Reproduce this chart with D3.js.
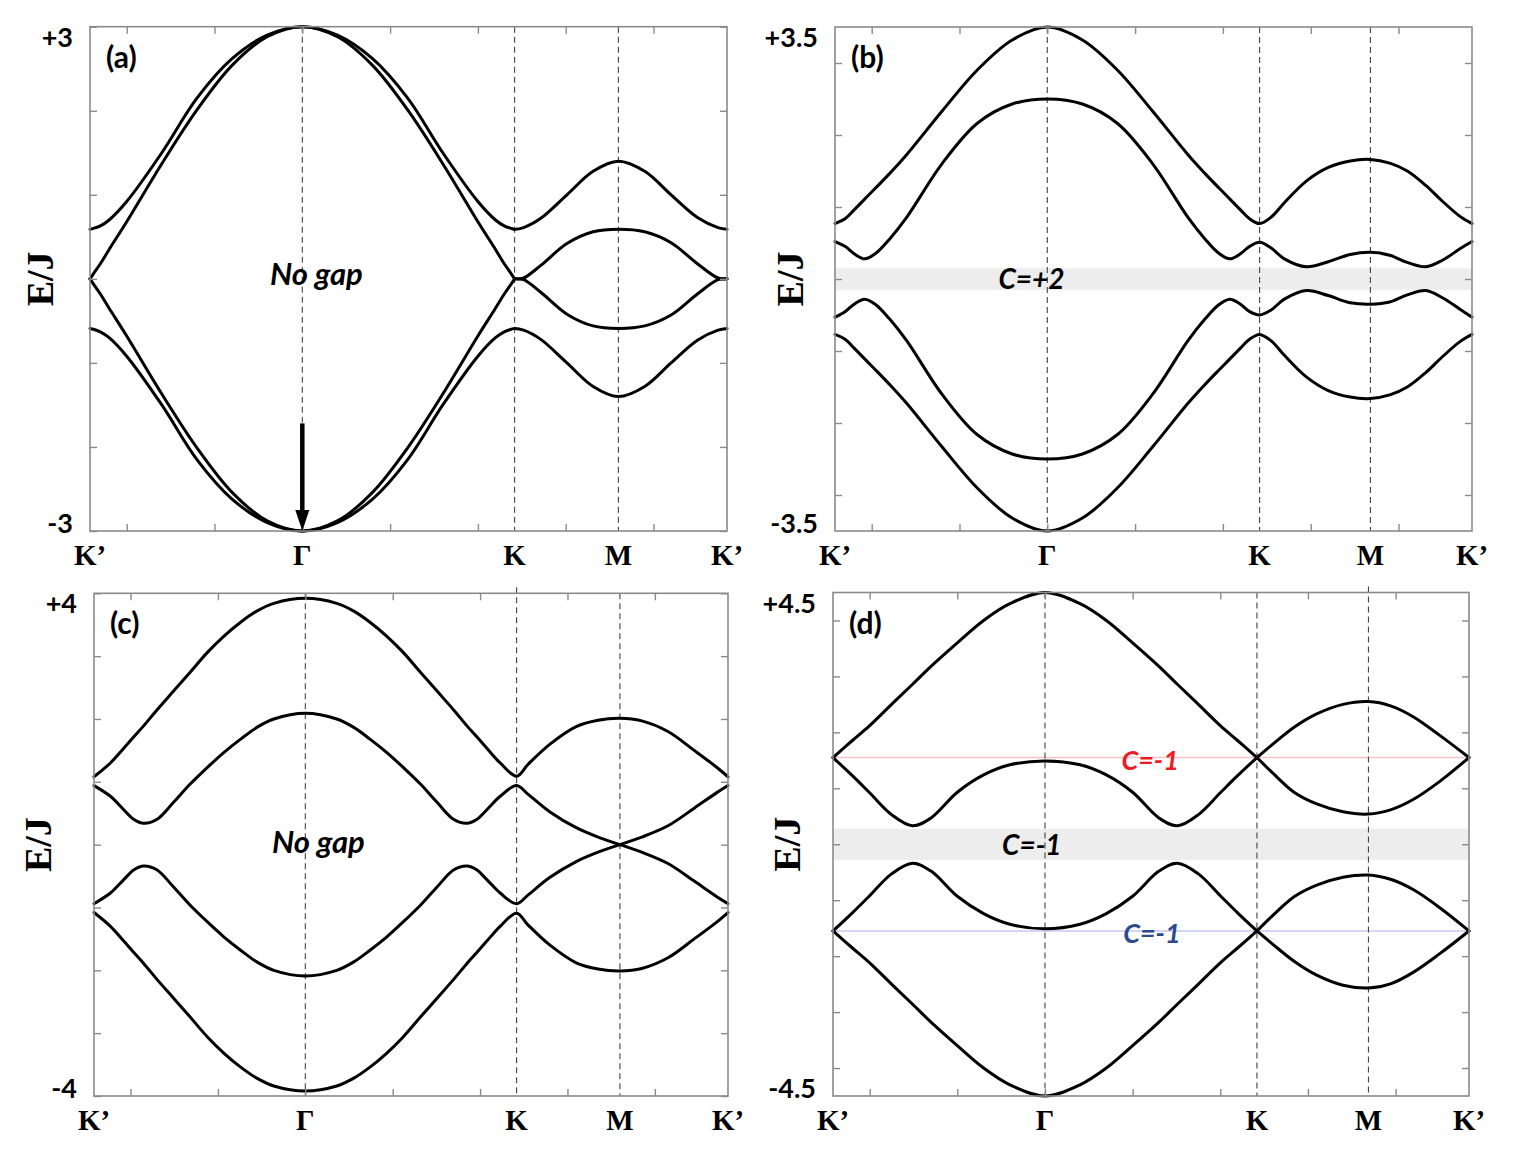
<!DOCTYPE html>
<html>
<head>
<meta charset="utf-8">
<script src="https://cdnjs.cloudflare.com/ajax/libs/d3/7.8.5/d3.min.js"></script>
<style>
  body { margin: 0; background: #fff; }
  svg { display: block; }
</style>
</head>
<body>
<div id="chart"></div>
<script>
// path K' -> Γ -> K -> M -> K', k in units of 1/a (Γ = 0)
var kDomain = [-2.418, 4.837];
var kTicks = [-2, -1, 0, 1, 2, 3, 4];
var symNames = ["K’", "Γ", "K", "M", "K’"];

// ---- panel (a)
var symA = [-2.418, 0, 2.418, 3.60, 4.837];
var kA = [-2.418, -2.38, -2.3, -2.2, -2.0, -1.6, -1.2, -0.8, -0.4, 0,
          0.4, 0.8, 1.2, 1.6, 2.0, 2.2, 2.3, 2.38, 2.418,
          2.52, 2.716, 3.014, 3.312, 3.60,
          3.9, 4.2, 4.5, 4.735, 4.837];
var a1 = [0.59, 0.60, 0.63, 0.70, 0.92, 1.50, 2.15, 2.62, 2.90, 3.00,
          2.90, 2.62, 2.15, 1.50, 0.92, 0.70, 0.63, 0.60, 0.59,
          0.61, 0.72, 1.00, 1.28, 1.40,
          1.28, 1.00, 0.73, 0.61, 0.59];
var a2 = [0.00, 0.06, 0.18, 0.35, 0.68, 1.37, 2.01, 2.54, 2.88, 3.00,
          2.88, 2.54, 2.01, 1.37, 0.68, 0.35, 0.18, 0.06, 0.00,
          0.01, 0.16, 0.42, 0.56, 0.59,
          0.56, 0.43, 0.18, 0.01, 0.00];
var a3 = [0.00, -0.06, -0.18, -0.35, -0.68, -1.37, -2.01, -2.54, -2.88, -3.00,
          -2.88, -2.54, -2.01, -1.37, -0.68, -0.35, -0.18, -0.06, 0.00,
          -0.01, -0.16, -0.42, -0.56, -0.59,
          -0.56, -0.43, -0.18, -0.01, 0.00];
var a4 = [-0.59, -0.60, -0.63, -0.70, -0.92, -1.50, -2.15, -2.62, -2.90, -3.00,
          -2.90, -2.62, -2.15, -1.50, -0.92, -0.70, -0.63, -0.60, -0.59,
          -0.61, -0.72, -1.00, -1.28, -1.40,
          -1.28, -1.00, -0.73, -0.61, -0.59];
var cuspA = [[], [2.418], [2.418], []];

// ---- panel (b)
var symB = [-2.418, 0, 2.418, 3.68, 4.837];
var kB = [-2.418, -2.3, -2.2, -2.08, -1.95, -1.8, -1.6, -1.2, -0.8, -0.4, 0,
          0.4, 0.8, 1.2, 1.6, 1.8, 1.95, 2.08, 2.2, 2.3, 2.418,
          2.55, 2.7, 2.95, 3.2, 3.45, 3.68,
          3.9, 4.1, 4.31, 4.5, 4.7, 4.837];
var b1 = [0.77, 0.84, 0.96, 1.11, 1.27, 1.46, 1.73, 2.33, 2.90, 3.32, 3.50,
          3.32, 2.90, 2.33, 1.73, 1.46, 1.27, 1.11, 0.96, 0.84, 0.77,
          0.86, 1.06, 1.36, 1.55, 1.64, 1.66,
          1.61, 1.50, 1.30, 1.08, 0.87, 0.77];
var b2 = [0.52, 0.45, 0.35, 0.28, 0.36, 0.55, 0.86, 1.60, 2.16, 2.43, 2.50,
          2.43, 2.16, 1.60, 0.86, 0.55, 0.36, 0.28, 0.35, 0.45, 0.51,
          0.43, 0.28, 0.17, 0.24, 0.34, 0.37,
          0.33, 0.23, 0.17, 0.26, 0.42, 0.52];
var b3 = [-0.53, -0.45, -0.35, -0.28, -0.36, -0.55, -0.86, -1.60, -2.16, -2.43, -2.50,
          -2.43, -2.16, -1.60, -0.86, -0.55, -0.36, -0.28, -0.35, -0.45, -0.50,
          -0.43, -0.28, -0.16, -0.23, -0.33, -0.35,
          -0.32, -0.22, -0.16, -0.26, -0.42, -0.53];
var b4 = [-0.77, -0.84, -0.96, -1.11, -1.27, -1.46, -1.73, -2.33, -2.90, -3.32, -3.50,
          -3.32, -2.90, -2.33, -1.73, -1.46, -1.27, -1.11, -0.96, -0.84, -0.77,
          -0.86, -1.06, -1.36, -1.55, -1.64, -1.66,
          -1.61, -1.50, -1.30, -1.08, -0.87, -0.77];
var gapB = [-0.15, 0.15];
var cuspB = [[], [], [], []];

// ---- panel (c)
var symC = [-2.418, 0, 2.418, 3.60, 4.837];
var kC = [-2.418, -2.23, -2.08, -1.96, -1.85, -1.70, -1.51, -1.32, -1.12, -0.93, -0.74, -0.55, -0.36, 0,
          0.36, 0.55, 0.74, 0.93, 1.12, 1.32, 1.51, 1.70, 1.85, 1.96, 2.08, 2.23, 2.418,
          2.55, 2.8, 3.1, 3.35, 3.60,
          3.85, 4.15, 4.45, 4.7, 4.837];
var c1 = [1.08, 1.30, 1.53, 1.72, 1.89, 2.14, 2.44, 2.74, 3.06, 3.32, 3.54, 3.72, 3.84, 3.92,
          3.84, 3.72, 3.54, 3.32, 3.06, 2.74, 2.44, 2.14, 1.89, 1.72, 1.53, 1.30, 1.09,
          1.28, 1.60, 1.88, 1.98, 2.01,
          1.97, 1.80, 1.50, 1.24, 1.08];
var c2 = [0.94, 0.77, 0.56, 0.40, 0.34, 0.40, 0.67, 0.96, 1.23, 1.47, 1.68, 1.87, 2.00, 2.09,
          2.00, 1.87, 1.68, 1.47, 1.23, 0.96, 0.67, 0.40, 0.34, 0.40, 0.56, 0.77, 0.94,
          0.80, 0.52, 0.27, 0.12, 0.00,
          0.12, 0.30, 0.58, 0.82, 0.94];
var c3 = [-0.94, -0.77, -0.56, -0.40, -0.34, -0.40, -0.67, -0.96, -1.23, -1.47, -1.68, -1.87, -2.00, -2.09,
          -2.00, -1.87, -1.68, -1.47, -1.23, -0.96, -0.67, -0.40, -0.34, -0.40, -0.56, -0.77, -0.94,
          -0.80, -0.52, -0.27, -0.12, 0.00,
          -0.12, -0.30, -0.58, -0.82, -0.94];
var c4 = [-1.08, -1.30, -1.53, -1.72, -1.89, -2.14, -2.44, -2.74, -3.06, -3.32, -3.54, -3.72, -3.84, -3.92,
          -3.84, -3.72, -3.54, -3.32, -3.06, -2.74, -2.44, -2.14, -1.89, -1.72, -1.53, -1.30, -1.09,
          -1.28, -1.60, -1.88, -1.98, -2.01,
          -1.97, -1.80, -1.50, -1.24, -1.08];
var cuspC = [[], [3.60], [3.60], []];

// ---- panel (d)
var symD = [-2.418, 0, 2.418, 3.69, 4.837];
var kD = [-2.418, -2.2, -2.0, -1.75, -1.51, -1.3, -1.0, -0.7, -0.4, 0,
          0.4, 0.7, 1.0, 1.3, 1.51, 1.75, 2.0, 2.2, 2.418,
          2.6, 2.85, 3.1, 3.4, 3.69,
          3.95, 4.2, 4.5, 4.837];
var d1 = [1.55, 1.85, 2.12, 2.50, 2.86, 3.18, 3.60, 4.00, 4.30, 4.50,
          4.30, 4.00, 3.60, 3.18, 2.86, 2.50, 2.12, 1.85, 1.55,
          1.79, 2.10, 2.33, 2.50, 2.55,
          2.47, 2.28, 1.95, 1.55];
var d2 = [1.55, 1.23, 0.92, 0.53, 0.33, 0.47, 0.93, 1.24, 1.42, 1.49,
          1.42, 1.24, 0.93, 0.47, 0.33, 0.53, 0.92, 1.23, 1.55,
          1.27, 0.92, 0.72, 0.58, 0.54,
          0.62, 0.80, 1.12, 1.55];
var d3b = [-1.55, -1.23, -0.92, -0.53, -0.34, -0.48, -0.93, -1.24, -1.43, -1.51,
           -1.43, -1.24, -0.93, -0.48, -0.34, -0.53, -0.92, -1.23, -1.55,
           -1.27, -0.93, -0.73, -0.59, -0.55,
           -0.63, -0.81, -1.13, -1.55];
var d4 = [-1.55, -1.85, -2.12, -2.50, -2.86, -3.18, -3.60, -4.00, -4.30, -4.50,
          -4.30, -4.00, -3.60, -3.18, -2.86, -2.50, -2.12, -1.85, -1.55,
          -1.79, -2.10, -2.34, -2.52, -2.57,
          -2.49, -2.29, -1.96, -1.55];
var gapD = [-0.28, 0.28];
var levelsD = [1.55, -1.55];
var cuspD = [[2.418], [2.418], [2.418], [2.418]];

var panels = [
  { tag: "(a)", box: [90, 26.7, 727, 531], yMax: 3, yLab: ["+3", "-3"], ejX: 40,
    sym: symA, k: kA, bands: [a1, a2, a3, a4], cusps: cuspA,
    notes: [{ t: "No gap", k: 0.16, E: -0.07, size: 31, color: "#000" }],
    arrow: { k: 0, from: -1.72, to: -3.0 } },
  { tag: "(b)", box: [835, 27, 1472, 531], yMax: 3.5, yLab: ["+3.5", "-3.5"], ejX: 790,
    sym: symB, k: kB, bands: [b1, b2, b3, b4], cusps: cuspB, gap: gapB,
    notes: [{ t: "C=+2", k: -0.18, E: -0.14, size: 28, color: "#000" }] },
  { tag: "(c)", box: [94, 593.3, 728, 1096], yMax: 4, yLab: ["+4", "-4"], ejX: 38,
    sym: symC, k: kC, bands: [c1, c2, c3, c4], cusps: cuspC, extend: 2,
    notes: [{ t: "No gap", k: 0.15, E: -0.135, size: 31, color: "#000" }] },
  { tag: "(d)", box: [833, 592.5, 1469, 1096], yMax: 4.5, yLab: ["+4.5", "-4.5"], ejX: 787,
    sym: symD, k: kD, bands: [d1, d2, d3b, d4], cusps: cuspD, gap: gapD, extend: 3,
    levels: [{ E: levelsD[0], color: "#f6c4c4" }, { E: levelsD[1], color: "#c9c9ef" }],
    notes: [{ t: "C=-1", k: -0.15, E: -0.19, size: 28, color: "#000" },
            { t: "C=-1", k: 1.20, E: 1.33, size: 27, color: "#ec1c24" },
            { t: "C=-1", k: 1.22, E: -1.76, size: 27, color: "#2a4b8d" }] }
];

var serif = "'Liberation Serif', 'Times New Roman', serif";
var sans = "Lato, 'Open Sans', sans-serif";
var frameColor = "#8a8a8a";

var svg = d3.select("#chart").append("svg")
    .attr("width", 1523)
    .attr("height", 1162);

// split one band into smooth pieces at its cusps (Dirac points, crossings)
function pieces(k, b, cusps) {
  var out = [], cur = [];
  k.forEach(function(kk, i) {
    cur.push([kk, b[i]]);
    if (i > 0 && i < k.length - 1 && cusps.indexOf(kk) >= 0) {
      out.push(cur);
      cur = [[kk, b[i]]];
    }
  });
  out.push(cur);
  return out;
}

panels.forEach(function(p) {
  var x0 = p.box[0], y0 = p.box[1], x1 = p.box[2], y1 = p.box[3];
  var x = d3.scaleLinear().domain(kDomain).range([x0, x1]);
  var y = d3.scaleLinear().domain([-p.yMax, p.yMax]).range([y1, y0]);
  var g = svg.append("g");

  // gapped region
  if (p.gap) {
    g.append("rect")
      .attr("x", x0).attr("width", x1 - x0)
      .attr("y", y(p.gap[1])).attr("height", y(p.gap[0]) - y(p.gap[1]))
      .attr("fill", "#ededed");
  }
  // flat reference levels
  (p.levels || []).forEach(function(l) {
    g.append("line")
      .attr("x1", x0).attr("x2", x1)
      .attr("y1", y(l.E)).attr("y2", y(l.E))
      .attr("stroke", l.color).attr("stroke-width", 1.6);
  });
  // high symmetry points
  g.selectAll("line.sym")
    .data(p.sym.slice(1, 4))
    .enter().append("line")
    .attr("class", "sym")
    .attr("x1", d => x(d)).attr("x2", d => x(d))
    .attr("y1", (d, i) => i + 1 === p.extend ? y0 - 6 : y0).attr("y2", y1)
    .attr("stroke", "#444").attr("stroke-width", 1.1)
    .attr("stroke-dasharray", "6,4");

  // bands
  var line = d3.line()
    .x(d => x(d[0]))
    .y(d => y(d[1]))
    .curve(d3.curveCatmullRom.alpha(0.5));
  p.bands.forEach(function(b, bi) {
    g.selectAll(null)
      .data(pieces(p.k, b, p.cusps[bi]))
      .enter().append("path")
      .attr("d", line)
      .attr("fill", "none")
      .attr("stroke", "#000")
      .attr("stroke-width", 3)
      .attr("stroke-linejoin", "round")
      .attr("stroke-linecap", "round");
  });

  // frame with inward ticks
  var yTicks = d3.range(-Math.floor(p.yMax), Math.floor(p.yMax) + 1);
  var axes = [
    { ax: d3.axisBottom(x).tickValues(kTicks), t: "translate(0," + y1 + ")" },
    { ax: d3.axisTop(x).tickValues(kTicks), t: "translate(0," + y0 + ")" },
    { ax: d3.axisLeft(y).tickValues(yTicks), t: "translate(" + x0 + ",0)" },
    { ax: d3.axisRight(y).tickValues(yTicks), t: "translate(" + x1 + ",0)" }
  ];
  axes.forEach(function(a) {
    var ag = g.append("g").attr("transform", a.t)
      .call(a.ax.tickSize(-7).tickFormat(""));
    ag.select(".domain").remove();
    ag.selectAll(".tick line").attr("stroke", frameColor).attr("stroke-width", 1.4);
  });
  g.append("rect")
    .attr("x", x0).attr("y", y0)
    .attr("width", x1 - x0).attr("height", y1 - y0)
    .attr("fill", "none")
    .attr("stroke", frameColor)
    .attr("stroke-width", 1.6);

  // arrow
  if (p.arrow) {
    var ax = x(p.arrow.k), yTip = y(p.arrow.to), yTail = y(p.arrow.from);
    g.append("line")
      .attr("x1", ax).attr("x2", ax)
      .attr("y1", yTail).attr("y2", yTip - 18)
      .attr("stroke", "#000").attr("stroke-width", 4.5);
    g.append("path")
      .attr("d", "M" + (ax - 7) + "," + (yTip - 21) + "L" + (ax + 7) + "," + (yTip - 21) +
                 "L" + ax + "," + yTip + "Z")
      .attr("fill", "#000");
  }

  // annotations
  p.notes.forEach(function(n) {
    g.append("text")
      .attr("x", x(n.k)).attr("y", y(n.E))
      .attr("text-anchor", "middle")
      .attr("font-family", sans)
      .attr("font-weight", "bold")
      .attr("font-style", "italic")
      .attr("font-size", n.size)
      .attr("fill", n.color)
      .text(n.t);
  });

  // panel tag
  g.append("text")
    .attr("x", x0 + 16).attr("y", y0 + 41)
    .attr("font-family", sans).attr("font-weight", "bold")
    .attr("font-size", 30)
    .text(p.tag);

  // energy limits
  g.append("text")
    .attr("x", x0 - 17).attr("y", y0 + 20)
    .attr("text-anchor", "end")
    .attr("font-family", sans).attr("font-weight", "bold").attr("font-size", 27)
    .text(p.yLab[0]);
  g.append("text")
    .attr("x", x0 - 17).attr("y", y1 + 2)
    .attr("text-anchor", "end")
    .attr("font-family", sans).attr("font-weight", "bold").attr("font-size", 27)
    .text(p.yLab[1]);

  // symmetry point labels
  g.selectAll("text.kl")
    .data(p.sym)
    .enter().append("text")
    .attr("class", "kl")
    .attr("x", d => x(d))
    .attr("y", y1 + 34)
    .attr("text-anchor", "middle")
    .attr("font-family", serif).attr("font-weight", "bold").attr("font-size", 29)
    .text((d, i) => symNames[i]);

  // axis title
  g.append("text")
    .attr("transform", "translate(" + p.ejX + "," + ((y0 + y1) / 2) + ") rotate(-90)")
    .attr("text-anchor", "middle")
    .attr("dominant-baseline", "central")
    .attr("font-family", serif).attr("font-weight", "bold").attr("font-size", 38)
    .text("E/J");
});
</script>
</body>
</html>
